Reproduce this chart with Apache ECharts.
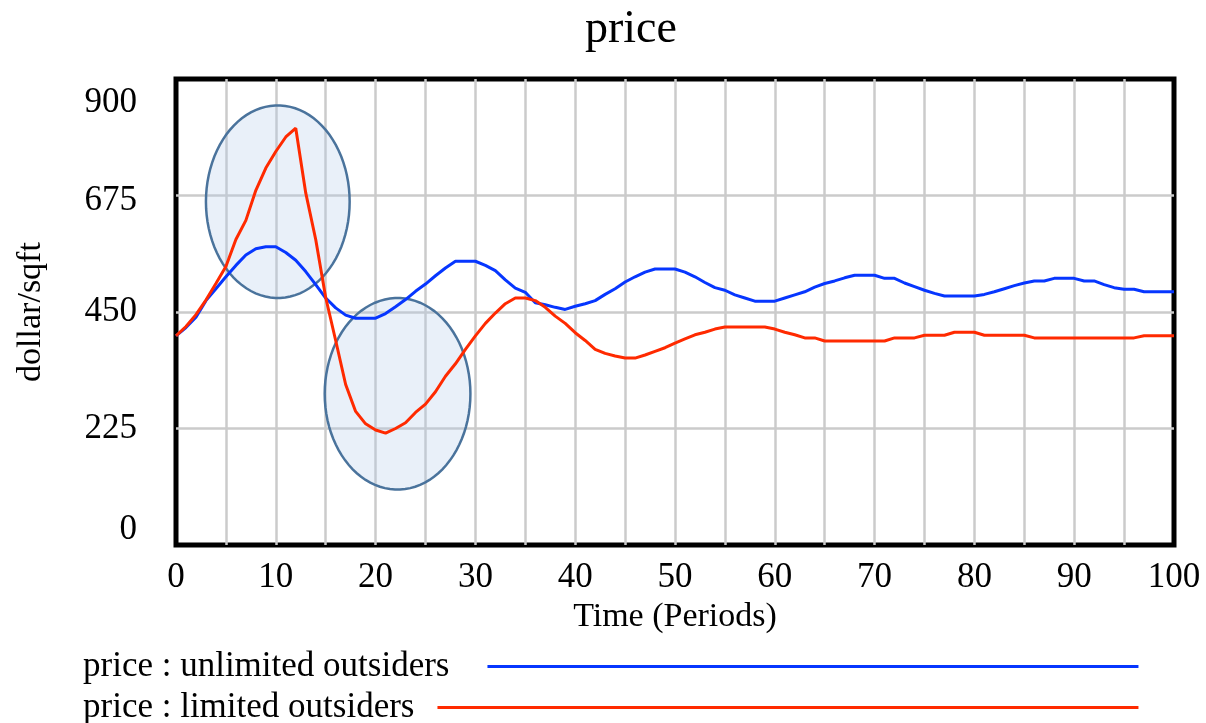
<!DOCTYPE html>
<html>
<head>
<meta charset="utf-8">
<script src="https://cdn.jsdelivr.net/npm/echarts@6/dist/echarts.min.js"></script>
<style>
html,body{margin:0;padding:0;background:#fff;}
#chart{width:1206px;height:723px;}
</style>
</head>
<body>
<div id="chart"></div>
<script>
// ---- data ----
const time = Array.from({length: 101}, (_, i) => i);
const unlimitedOutsiders = [
  404, 420, 440, 472, 495, 518, 540, 560, 572, 576,
  576, 565, 550, 528, 503, 477, 458, 444, 438, 438,
  438, 447, 460, 474, 490, 504, 520, 535, 548, 548,
  548, 540, 530, 512, 496, 488, 468, 464, 459, 455,
  461, 466, 472, 484, 495, 508, 518, 527, 533, 533,
  533, 527, 518, 507, 497, 492, 483, 477, 471, 471,
  471, 477, 483, 489, 498, 505, 510, 516, 521, 521,
  521, 515, 515, 506, 499, 492, 486, 481, 481, 481,
  481, 484, 489, 495, 501, 506, 510, 510, 515, 515,
  515, 510, 510, 503, 497, 494, 494, 489, 489, 489,
  489
];
const limitedOutsiders = [
  404, 422, 445, 473, 505, 538, 590, 627, 685, 728,
  760, 788, 805, 680, 590, 478, 395, 310, 258, 234,
  222, 216, 225, 236, 256, 272, 296, 326, 350, 378,
  404, 428, 448, 466, 477, 477, 472, 459, 442, 428,
  410, 395, 378, 370, 365, 361, 361, 367, 374, 381,
  390, 398, 406, 411, 417, 421, 421, 421, 421, 421,
  417, 411, 406, 400, 400, 394, 394, 394, 394, 394,
  394, 394, 400, 400, 400, 405, 405, 405, 411, 411,
  411, 405, 405, 405, 405, 405, 400, 400, 400, 400,
  400, 400, 400, 400, 400, 400, 400, 404, 404, 404,
  404
];
// highlight ellipses: [centerTime, centerPrice, radiusTime, radiusPrice]
const highlightEllipses = [
  [10.2, 663, 7.2, 186],
  [22.2, 292, 7.3, 185]
];
const yTicks = [0, 225, 450, 675, 900];
const seriesNames = ['price : unlimited outsiders', 'price : limited outsiders'];

const FONT = "'Liberation Serif', 'Times New Roman', serif";
const BLUE = '#0636ff';
const RED = '#ff2a00';

const chart = echarts.init(document.getElementById('chart'), null, {renderer: 'canvas'});

function pairs(vals) { return time.map((t, i) => [t, vals[i]]); }

const option = {
  backgroundColor: '#ffffff',
  animation: false,
  title: {
    text: 'price',
    left: 585,
    top: 7,
    padding: 0,
    textStyle: {fontFamily: FONT, fontSize: 46, fontWeight: 'normal', color: '#000'}
  },
  grid: {
    left: 176, right: 32, top: 79, bottom: 178,
    show: true, borderColor: '#000', borderWidth: 5, backgroundColor: '#fff'
  },
  legend: [
    {
      data: [seriesNames[0]],
      left: 83, top: 649, padding: 0,
      align: 'right',
      icon: 'rect',
      itemWidth: 651, itemHeight: 3,
      selectedMode: false,
      textStyle: {fontFamily: FONT, fontSize: 35, color: '#000', padding: [0, 33, 0, 0]}
    },
    {
      data: [seriesNames[1]],
      left: 83, top: 690, padding: 0,
      align: 'right',
      icon: 'rect',
      itemWidth: 701, itemHeight: 3,
      selectedMode: false,
      textStyle: {fontFamily: FONT, fontSize: 35, color: '#000', padding: [0, 18, 0, 0]}
    }
  ],
  xAxis: {
    type: 'value', min: 0, max: 100, interval: 5,
    name: 'Time (Periods)', nameLocation: 'middle', nameGap: 51,
    nameTextStyle: {fontFamily: FONT, fontSize: 34, color: '#000'},
    axisLine: {show: false},
    axisTick: {show: false},
    axisLabel: {
      fontFamily: FONT, fontSize: 35, color: '#000', margin: 15,
      formatter: v => (v % 10 === 0 ? String(v) : '')
    },
    splitLine: {show: true, showMinLine: false, showMaxLine: false, lineStyle: {color: '#cbcbcb', width: 2.5}}
  },
  yAxis: {
    type: 'value', min: yTicks[0], max: yTicks[yTicks.length - 1], interval: yTicks[1] - yTicks[0],
    name: 'dollar/sqft', nameLocation: 'middle', nameGap: 128,
    nameTextStyle: {fontFamily: FONT, fontSize: 34, color: '#000'},
    axisLine: {show: false},
    axisTick: {show: false},
    axisLabel: {
      fontFamily: FONT, fontSize: 35, color: '#000', margin: 39,
      formatter: v => {
        if (v === yTicks[yTicks.length - 1]) return '{top|' + v + '}';
        if (v === yTicks[0]) return '{bot|' + v + '}';
        if (v === yTicks[3]) return '{mid|' + v + '}';
        return String(v);
      },
      rich: {
        top: {fontFamily: FONT, fontSize: 35, color: '#000', padding: [48, 0, 0, 0]},
        mid: {fontFamily: FONT, fontSize: 35, color: '#000', padding: [10, 0, 0, 0]},
        bot: {fontFamily: FONT, fontSize: 35, color: '#000', padding: [0, 0, 30, 0]}
      }
    },
    splitLine: {show: true, showMinLine: false, showMaxLine: false, lineStyle: {color: '#cbcbcb', width: 2.5}}
  },
  series: [
    {
      type: 'custom',
      name: 'highlights',
      z: 1,
      silent: true,
      encode: {x: 0, y: 1},
      data: highlightEllipses,
      renderItem: function (params, api) {
        const c = api.coord([api.value(0), api.value(1)]);
        const s = api.size([api.value(2), api.value(3)]);
        const pts = [];
        const N = 90;
        for (let k = 0; k < N; k++) {
          const a = 2 * Math.PI * k / N;
          pts.push([c[0] + s[0] * Math.cos(a), c[1] + s[1] * Math.sin(a)]);
        }
        return {
          type: 'polygon',
          shape: {points: pts},
          style: {fill: 'rgba(175,202,234,0.28)', stroke: '#4a739c', lineWidth: 2.5}
        };
      }
    },
    {
      type: 'line', name: seriesNames[0], z: 3,
      data: pairs(unlimitedOutsiders),
      showSymbol: false, symbol: 'none',
      lineStyle: {color: BLUE, width: 3},
      itemStyle: {color: BLUE}
    },
    {
      type: 'line', name: seriesNames[1], z: 4,
      data: pairs(limitedOutsiders),
      showSymbol: false, symbol: 'none',
      lineStyle: {color: RED, width: 3},
      itemStyle: {color: RED}
    }
  ]
};
chart.setOption(option);
</script>
</body>
</html>
